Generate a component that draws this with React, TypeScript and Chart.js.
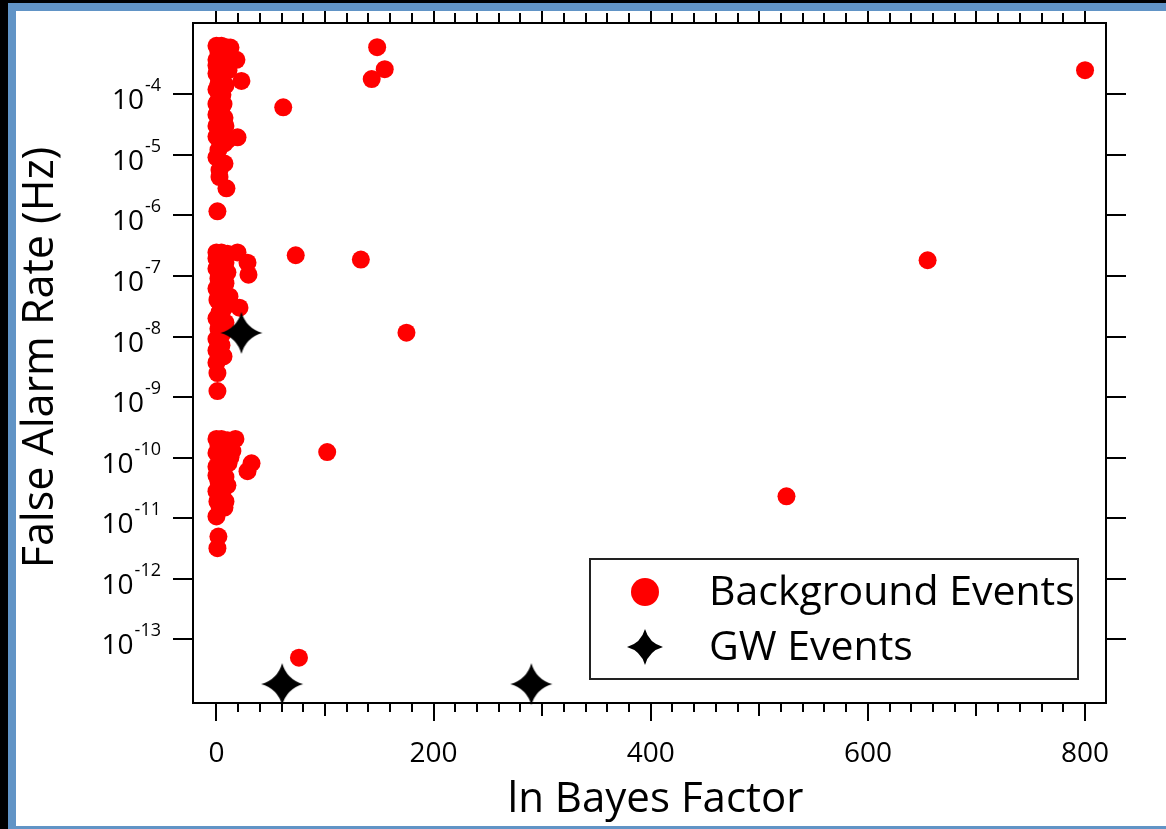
import React, { useEffect, useRef } from 'react';
import Chart from 'chart.js/auto';

// ---- data (ln Bayes factor, false alarm rate in Hz) ----
const bgLnB = [
  0, 4.6, 9.2, 12.9, 1.8, 7.4, 18.4, 0, 4.6, 11.1, 0, 23.0, 2.8, 8.3, 0, 5.5, 0.9, 4.6, 0, 7.4, 1.8, 4.6, 19.4, 0, 7.4, 1.8, 0, 7.4, 2.8, 2.8, 9.2, 0.9,
  4.6, 10.1, 0, 6.5, 1.8, 6.5, 0, 2.8, 8.3, 0, 10.1, 3.7,
  3.7, 2.8, 3.7, 2.8, 1.8,
  0, 4.6, 10.1, 19.4, 1.8, 8.3, 28.6, 0, 5.5, 29.5, 1.8, 8.3, 0, 4.6, 12.0, 21.2, 0.9, 5.5, 0, 8.3, 1.8, 0, 4.6, 2.8, 6.5, 0, 0.9, 0.9,
  0, 6.5, 3.7, 10.1, 3.7, 8.3, 3.7, 5.5, 1.8, 0,
  3.7, 2.8, 2.8, 1.8, 3.7,
  0, 4.6, 10.1, 17.5, 1.8, 8.3, 14.7, 0, 32.3, 4.6, 11.1, 28.6, 0, 6.5, 1.8, 10.1, 0, 5.5, 8.3, 7.4, 0, 1.8, 0.9,
  6.5, 12.9, 0, 5.5, 2.8, 0.9,
  2.8, 2.8, 3.7, 8.3,
  800, 148, 155, 143, 61.5, 73, 133, 175, 655, 102, 525, 76,
];
const bgFAR = [
  6.3e-4, 6.3e-4, 6.0e-4, 5.9e-4, 5.0e-4, 4.5e-4, 3.7e-4, 3.7e-4, 3.0e-4, 2.5e-4, 2.2e-4, 1.66e-4, 1.7e-4, 1.4e-4, 1.2e-4, 9.8e-5, 7.4e-5, 5.9e-5, 4.6e-5, 4.1e-5, 3.1e-5, 2.6e-5, 1.95e-5, 2.0e-5, 1.55e-5, 1.2e-5, 9.1e-6, 7.2e-6, 5.6e-6, 4.3e-6, 2.8e-6, 1.17e-6,
  4.3e-4, 4.0e-4, 3.0e-4, 2.2e-4, 1.48e-4, 6.9e-5, 6.9e-5, 5.1e-5, 3.0e-5, 3.0e-5, 1.75e-5, 1.55e-5,
  3.4e-4, 9.4e-5, 3.8e-5, 1.75e-5, 5.5e-5,
  2.45e-7, 2.45e-7, 2.34e-7, 2.45e-7, 1.95e-7, 1.66e-7, 1.66e-7, 1.32e-7, 1.23e-7, 1.05e-7, 9.1e-8, 7.6e-8, 6.2e-8, 5.1e-8, 4.6e-8, 3.0e-8, 4.0e-8, 2.7e-8, 2.0e-8, 1.7e-8, 1.35e-8, 9.1e-9, 7.2e-9, 5.4e-9, 4.7e-9, 3.7e-9, 2.5e-9, 1.26e-9,
  1.95e-7, 1.95e-7, 9.8e-8, 1.15e-7, 3.5e-8, 3.2e-8, 2.0e-8, 1.12e-8, 7.1e-9, 5.9e-9,
  1.55e-7, 7.1e-8, 2.5e-8, 4.6e-8, 1.45e-8,
  2.04e-10, 2.04e-10, 1.95e-10, 2.04e-10, 1.62e-10, 1.45e-10, 1.29e-10, 1.2e-10, 8.1e-11, 9.5e-11, 8.1e-11, 6.0e-11, 7.1e-11, 5.6e-11, 4.1e-11, 3.5e-11, 2.8e-11, 2.3e-11, 1.9e-11, 1.5e-11, 1.07e-11, 5.0e-12, 3.2e-12,
  1.2e-10, 1.02e-10, 5.1e-11, 3.8e-11, 1.58e-11, 1.9e-11,
  1.6e-10, 8.1e-11, 3.0e-11, 4.8e-11,
  2.5e-4, 6.0e-4, 2.6e-4, 1.78e-4, 6.1e-5, 2.2e-7, 1.87e-7, 1.16e-8, 1.82e-7, 1.24e-10, 2.3e-11, 5.0e-14,
];
const gwLnB = [23, 60.5, 290];
const gwFAR = [1.15e-8, 1.83e-14, 1.83e-14];

const seriesNames = ['Background Events', 'GW Events'];
const xTitle = 'ln Bayes Factor';
const yTitle = 'False Alarm Rate (Hz)';
const xTickLabels = [0, 200, 400, 600, 800];
const yTickExponents = [-4, -5, -6, -7, -8, -9, -10, -11, -12, -13];

// ---- axis ranges / styling ----
const X_MIN = -21.6;
const X_MAX = 819.3;
const Y_MIN = Math.pow(10, -14.05);
const Y_MAX = Math.pow(10, -2.823);
const X_MINOR = 20;
const FONT = '"Open Sans", "Noto Sans", sans-serif';
const RED = '#ff0000';
const BLUE = '#6194c6';

function traceStar(ctx: CanvasRenderingContext2D, cx: number, cy: number, r: number) {
  const k = 0.22 * r;
  ctx.beginPath();
  ctx.moveTo(cx, cy - r);
  ctx.quadraticCurveTo(cx + k, cy - k, cx + r, cy);
  ctx.quadraticCurveTo(cx + k, cy + k, cx, cy + r);
  ctx.quadraticCurveTo(cx - k, cy + k, cx - r, cy);
  ctx.quadraticCurveTo(cx - k, cy - k, cx, cy - r);
  ctx.closePath();
}

function makeStarImage(r: number): HTMLCanvasElement {
  const size = Math.ceil(2 * r) + 2;
  const c = document.createElement('canvas');
  c.width = size;
  c.height = size;
  const ctx = c.getContext('2d')!;
  traceStar(ctx, size / 2, size / 2, r);
  ctx.fillStyle = '#000';
  ctx.fill();
  return c;
}

const decorPlugin = {
  id: 'decor',
  afterDraw(chart: any) {
    const { ctx, chartArea: a, scales } = chart;
    const xs = scales.x;
    const ys = scales.y;
    ctx.save();
    ctx.strokeStyle = '#000';
    ctx.lineWidth = 2;
    ctx.strokeRect(a.left, a.top, a.right - a.left, a.bottom - a.top);

    // ticks
    ctx.beginPath();
    const last = xTickLabels[xTickLabels.length - 1];
    for (let i = 0; xTickLabels[0] + i * X_MINOR <= last; i++) {
      const v = xTickLabels[0] + i * X_MINOR;
      const px = Math.round(xs.getPixelForValue(v));
      const major = v % 200 === 0;
      const mid = v % 100 === 0;
      const lb = major ? 18 : mid ? 13 : 9;
      ctx.moveTo(px, a.bottom);
      ctx.lineTo(px, a.bottom + lb);
      const lt = mid ? 12 : 10;
      ctx.moveTo(px, a.top);
      ctx.lineTo(px, a.top - lt);
    }
    yTickExponents.forEach((e) => {
      const py = Math.round(ys.getPixelForValue(Math.pow(10, e)));
      ctx.moveTo(a.left, py);
      ctx.lineTo(a.left - 20, py);
      ctx.moveTo(a.right, py);
      ctx.lineTo(a.right + 20, py);
    });
    ctx.stroke();

    ctx.fillStyle = '#000';
    // x labels
    ctx.font = `28px ${FONT}`;
    ctx.textAlign = 'center';
    ctx.textBaseline = 'alphabetic';
    xTickLabels.forEach((v) => {
      ctx.fillText(String(v), xs.getPixelForValue(v), a.bottom + 59);
    });

    // y labels 10^e
    ctx.textAlign = 'left';
    const rightEdge = 161;
    yTickExponents.forEach((e) => {
      const py = ys.getPixelForValue(Math.pow(10, e));
      const sup = String(e);
      ctx.font = `18px ${FONT}`;
      const supW = ctx.measureText(sup).width;
      ctx.fillText(sup, rightEdge - supW, py - 3);
      ctx.font = `28px ${FONT}`;
      const baseW = ctx.measureText('10').width;
      ctx.fillText('10', rightEdge - supW - 1 - baseW, py + 15);
    });

    // axis titles
    ctx.font = `42px ${FONT}`;
    ctx.textAlign = 'center';
    ctx.fillText(xTitle, 655.5, 812);
    ctx.save();
    ctx.translate(53, 357.5);
    ctx.rotate(-Math.PI / 2);
    ctx.font = `43px ${FONT}`;
    ctx.fillText(yTitle, 0, 0);
    ctx.restore();

    // legend
    ctx.lineWidth = 2;
    ctx.strokeStyle = '#222';
    ctx.strokeRect(590, 559, 488, 120);
    ctx.beginPath();
    ctx.arc(645, 592, 14, 0, Math.PI * 2);
    ctx.fillStyle = RED;
    ctx.fill();
    traceStar(ctx, 645, 647, 18);
    ctx.fillStyle = '#000';
    ctx.fill();
    ctx.font = `41px ${FONT}`;
    ctx.textAlign = 'left';
    ctx.fillText(seriesNames[0], 709, 605);
    ctx.fillText(seriesNames[1], 709, 660);
    ctx.restore();
  },
};

export default function App() {
  const ref = useRef<HTMLCanvasElement>(null);

  useEffect(() => {
    document.body.style.margin = '0';
    const canvas = ref.current;
    if (!canvas) return;
    const star = makeStarImage(21);
    const chart = new Chart(canvas, {
      type: 'scatter',
      data: {
        datasets: [
          {
            label: seriesNames[0],
            data: bgLnB.map((x, i) => ({ x, y: bgFAR[i] })),
            pointRadius: 9,
            pointHoverRadius: 9,
            pointBorderWidth: 0,
            backgroundColor: RED,
            borderColor: RED,
            pointStyle: 'circle',
            order: 1,
            clip: false as any,
          },
          {
            label: seriesNames[1],
            data: gwLnB.map((x, i) => ({ x, y: gwFAR[i] })),
            pointStyle: star as any,
            pointRadius: 21,
            backgroundColor: '#000',
            borderColor: '#000',
            order: 0,
            clip: false as any,
          },
        ],
      },
      options: {
        animation: false,
        responsive: false,
        devicePixelRatio: 1,
        events: [],
        layout: { padding: { left: 193, top: 23, right: 60, bottom: 126 } },
        scales: {
          x: { type: 'linear', min: X_MIN, max: X_MAX, display: false },
          y: { type: 'logarithmic', min: Y_MIN, max: Y_MAX, display: false },
        },
        plugins: {
          legend: { display: false },
          tooltip: { enabled: false },
          title: { display: false },
        },
      },
      plugins: [decorPlugin],
    });
    return () => chart.destroy();
  }, []);

  return (
    <div style={{ position: 'absolute', left: 0, top: 0, width: 1166, height: 829, overflow: 'hidden', background: '#000' }}>
      <div style={{ position: 'absolute', left: 8, top: 3, width: 1400, height: 1000, background: BLUE }} />
      <div style={{ position: 'absolute', left: 16, top: 11, width: 1400, height: 815, background: '#fff' }} />
      <canvas ref={ref} width={1166} height={829} style={{ position: 'absolute', left: 0, top: 0, width: 1166, height: 829 }} />
    </div>
  );
}
